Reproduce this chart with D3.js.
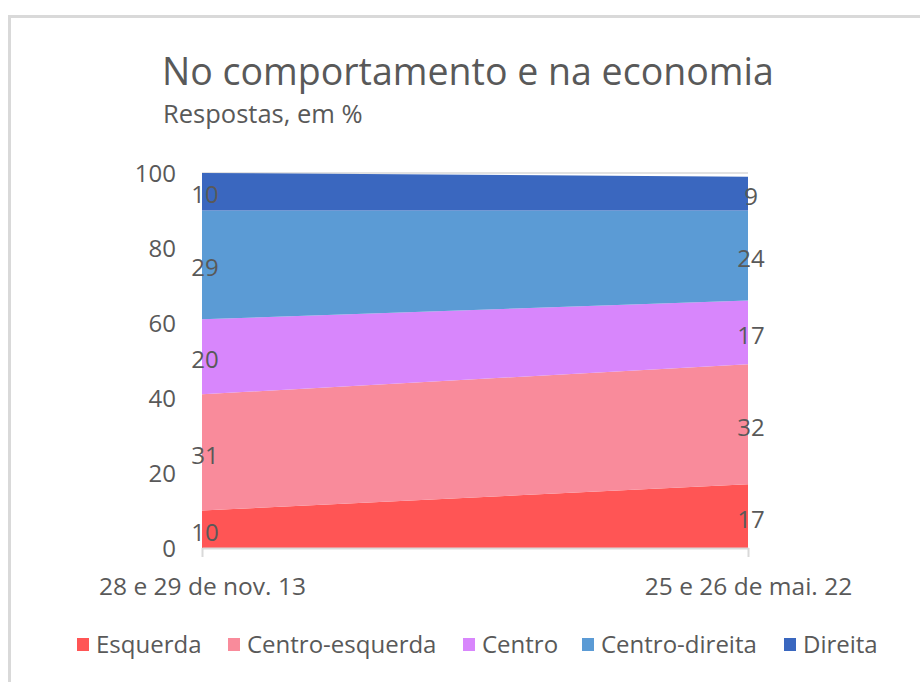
<!DOCTYPE html>
<html>
<head>
<meta charset="utf-8">
<script src="https://cdn.jsdelivr.net/npm/d3@7"></script>
<style>
  body { margin: 0; background: #fff; }
  text { font-family: "Open Sans", sans-serif; fill: #595959; }
</style>
</head>
<body>
<svg id="chart" width="920" height="682"></svg>
<script>
// surveys (x categories)
var dates = ["28 e 29 de nov. 13", "25 e 26 de mai. 22"];
// series, bottom to top
var series = ["Esquerda", "Centro-esquerda", "Centro", "Centro-direita", "Direita"];
var colors = ["#ff5555", "#f98b9b", "#d886fc", "#5b9bd5", "#3a67bf"];
var esquerda = [10, 17];
var centroEsquerda = [31, 32];
var centro = [20, 17];
var centroDireita = [29, 24];
var direita = [10, 9];
var yTicks = [0, 20, 40, 60, 80, 100];

var cols = [esquerda, centroEsquerda, centro, centroDireita, direita];
var rows = dates.map(function(d, i) {
  var r = { date: d };
  series.forEach(function(s, j) { r[s] = cols[j][i]; });
  return r;
});

var svg = d3.select("#chart");

// frame
svg.append("path")
  .attr("d", "M9.5,682 V16.5 H920")
  .attr("fill", "none")
  .attr("stroke", "#d9d9d9")
  .attr("stroke-width", 3);

svg.append("text").attr("x", 162).attr("y", 85)
  .style("font-size", "37.5px").text("No comportamento e na economia");
svg.append("text").attr("x", 163).attr("y", 123)
  .style("font-size", "25.5px").text("Respostas, em %");

var x = d3.scalePoint().domain(dates).range([202, 748]);
var y = d3.scaleLinear().domain([0, 100]).range([548, 173]);

var stack = d3.stack().keys(series);
var layers = stack(rows);

// top gridline
svg.append("line")
  .attr("x1", x.range()[0]).attr("x2", x.range()[1])
  .attr("y1", y(100)).attr("y2", y(100))
  .attr("stroke", "#d9d9d9").attr("stroke-width", 1.5);

var area = d3.area()
  .x(function(d) { return x(d.data.date); })
  .y0(function(d) { return y(d[0]); })
  .y1(function(d) { return y(d[1]); });

svg.selectAll("path.layer").data(layers).enter().append("path")
  .attr("class", "layer")
  .attr("d", area)
  .attr("fill", function(d, i) { return colors[i]; });

// y axis labels
svg.selectAll("text.ytick").data(yTicks).enter().append("text")
  .attr("class", "ytick")
  .attr("x", 176).attr("y", function(d) { return y(d); })
  .attr("dy", "0.38em").attr("text-anchor", "end")
  .style("font-size", "24px").text(function(d) { return d; });

// x axis
var xAxis = d3.axisBottom(x).tickSize(9).tickPadding(21).tickSizeOuter(0);
var gx = svg.append("g").attr("transform", "translate(0," + y(0) + ")").call(xAxis);
gx.select(".domain").attr("stroke", "#d9d9d9").attr("stroke-width", 2);
gx.selectAll(".tick line").attr("stroke", "#d9d9d9").attr("stroke-width", 2);
gx.selectAll(".tick text").style("font-size", "24.5px").style("font-family", "Open Sans, sans-serif")
  .attr("fill", "#595959");

// data labels
layers.forEach(function(layer) {
  svg.selectAll(null).data(layer).enter().append("text")
    .attr("x", function(d) { return x(d.data.date) + 3; })
    .attr("y", function(d) { return y((d[0] + d[1]) / 2) + 3; })
    .attr("dy", "0.35em").attr("text-anchor", "middle")
    .style("font-size", "24px")
    .text(function(d) { return d[1] - d[0]; });
});

// legend
var legendX = [77, 228, 463, 582, 784];
var lg = svg.selectAll("g.leg").data(series).enter().append("g")
  .attr("class", "leg")
  .attr("transform", function(d, i) { return "translate(" + legendX[i] + ",645)"; });
lg.append("rect").attr("x", 0).attr("y", -7).attr("width", 12).attr("height", 13)
  .attr("fill", function(d, i) { return colors[i]; });
lg.append("text").attr("x", 19).attr("dy", "0.35em")
  .style("font-size", "24px").text(function(d) { return d; });
</script>
</body>
</html>
